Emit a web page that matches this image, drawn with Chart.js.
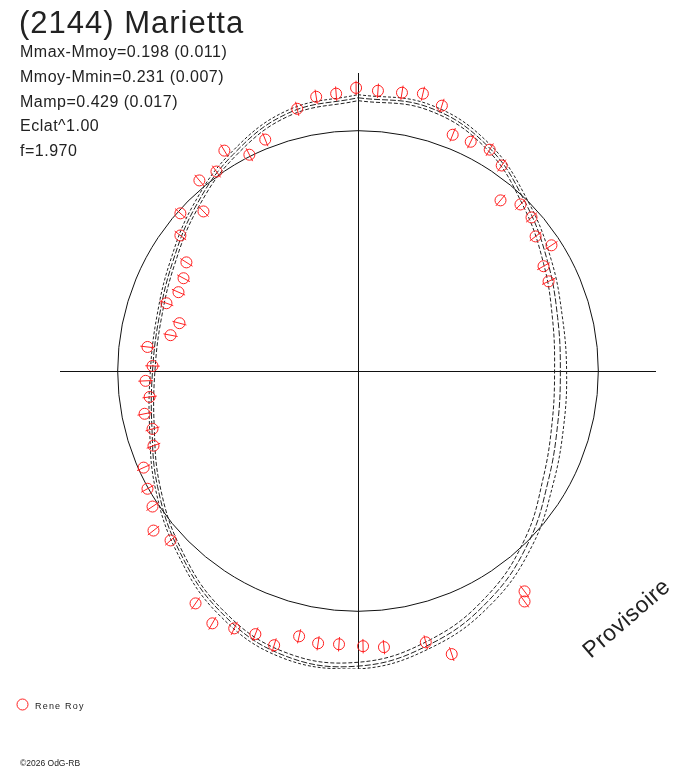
<!DOCTYPE html>
<html>
<head>
<meta charset="utf-8">
<script src="https://cdn.jsdelivr.net/npm/chart.js@4.4.0/dist/chart.umd.min.js"></script>
<style>
  html, body { margin: 0; padding: 0; background: #fff; }
  #wrap { position: relative; width: 688px; height: 768px; }
</style>
</head>
<body>
<div id="wrap"><canvas id="polarChart"></canvas></div>
<script>
// Polar light curve of (2144) Marietta
// radius unit = mean flux circle, angle = rotation phase (clockwise from top)

const titleText = '(2144) Marietta';
const infoLines = [
  'Mmax-Mmoy=0.198 (0.011)',
  'Mmoy-Mmin=0.231 (0.007)',
  'Mamp=0.429 (0.017)',
  'Eclat^1.00',
  'f=1.970'
];
const observer = 'Rene Roy';
const footer = '\u00a92026 OdG-RB';
const stamp = 'Provisoire';

// observations, in units of the mean circle
const obsX = [-0.008, 0.083, 0.183, 0.270, 0.349, 0.394, 0.469, 0.548, 0.598, 0.593,
  0.676, 0.722, 0.739, 0.805, 0.772, 0.793, 0.693, 0.693, 0.390, 0.282,
  0.108, 0.021, -0.079, -0.166, -0.245, -0.349, -0.427, -0.515, -0.606, -0.676,
  -0.780, -0.851, -0.855, -0.876, -0.892, -0.851, -0.855, -0.888, -0.867, -0.884,
  -0.855, -0.876, -0.780, -0.743, -0.797, -0.747, -0.726, -0.714, -0.739, -0.739,
  -0.643, -0.660, -0.589, -0.556, -0.452, -0.386, -0.253, -0.174, -0.091];
const obsY = [1.178, 1.166, 1.158, 1.154, 1.104, 0.983, 0.954, 0.921, 0.855, 0.710,
  0.693, 0.639, 0.560, 0.523, 0.436, 0.373, -0.917, -0.959, -1.178, -1.129,
  -1.149, -1.145, -1.137, -1.133, -1.104, -1.141, -1.095, -1.071, -1.050, -0.967,
  -0.705, -0.664, -0.564, -0.490, -0.402, -0.311, -0.241, -0.178, -0.108, -0.041,
  0.021, 0.100, 0.149, 0.199, 0.282, 0.328, 0.386, 0.452, 0.564, 0.656,
  0.664, 0.793, 0.830, 0.917, 0.900, 0.963, 1.091, 1.141, 1.154];
const obsErr = 0.03;

// fitted curves: radius at each phase angle (degrees)
const fitPhase = [0, 15, 30, 45, 60, 75, 90, 105, 120, 135, 150, 165,
  180, 195, 210, 225, 240, 255, 270, 285, 300, 315, 330, 345];
const fitInner = [1.125, 1.124, 1.068, 0.972, 0.892, 0.838, 0.818, 0.836, 0.890, 0.984, 1.078, 1.158,
  1.212, 1.208, 1.140, 1.043, 0.952, 0.878, 0.845, 0.847, 0.882, 0.948, 1.028, 1.100];
const fitMid = [1.137, 1.136, 1.080, 0.987, 0.911, 0.860, 0.842, 0.860, 0.914, 1.005, 1.097, 1.175,
  1.228, 1.222, 1.152, 1.054, 0.963, 0.888, 0.855, 0.857, 0.893, 0.960, 1.040, 1.112];
const fitOuter = [1.150, 1.148, 1.092, 1.000, 0.928, 0.880, 0.868, 0.886, 0.938, 1.026, 1.116, 1.190,
  1.240, 1.234, 1.166, 1.066, 0.974, 0.898, 0.864, 0.867, 0.904, 0.972, 1.052, 1.124];

const axisMax = 1.24;

function toXY(radii) {
  const pts = fitPhase.map((deg, i) => {
    const a = deg * Math.PI / 180;
    return { x: radii[i] * Math.sin(a), y: radii[i] * Math.cos(a) };
  });
  pts.push(pts[0]);
  return pts;
}

function fitSet(radii, dash) {
  return {
    data: toXY(radii),
    showLine: true,
    borderColor: '#222',
    borderWidth: 1,
    borderDash: dash,
    pointRadius: 0,
    tension: 0.4,
    fill: false,
    order: 2
  };
}

const axisOpts = {
  type: 'linear',
  min: -axisMax,
  max: axisMax,
  ticks: { display: false },
  border: { display: false },
  grid: { color: '#111', lineWidth: 1, drawTicks: false },
  afterBuildTicks: s => { s.ticks = [{ value: 0 }]; }
};

const decor = {
  id: 'decor',
  beforeDatasetsDraw(chart) {
    const { ctx, scales: { x, y } } = chart;
    const cx = x.getPixelForValue(0), cy = y.getPixelForValue(0);
    const r = x.getPixelForValue(1) - cx;
    ctx.save();
    ctx.strokeStyle = '#111';
    ctx.lineWidth = 1;
    ctx.beginPath();
    ctx.arc(cx, cy, r, 0, Math.PI * 2);
    ctx.stroke();
    ctx.restore();
  },
  afterDatasetsDraw(chart) {
    // radial error bars through each observation
    const { ctx, scales: { x, y } } = chart;
    const cx = x.getPixelForValue(0), cy = y.getPixelForValue(0);
    const h = x.getPixelForValue(obsErr) - cx;
    ctx.save();
    ctx.strokeStyle = '#ff2020';
    ctx.lineWidth = 1;
    chart.getDatasetMeta(0).data.forEach(el => {
      const a = Math.atan2(el.y - cy, el.x - cx);
      ctx.beginPath();
      ctx.moveTo(el.x - h * Math.cos(a), el.y - h * Math.sin(a));
      ctx.lineTo(el.x + h * Math.cos(a), el.y + h * Math.sin(a));
      ctx.stroke();
    });
    ctx.restore();
  },
  afterDraw(chart) {
    const ctx = chart.ctx;
    ctx.save();
    ctx.fillStyle = '#222';
    ctx.textBaseline = 'alphabetic';
    ctx.font = '31px "Liberation Sans", Arial, sans-serif';
    ctx.letterSpacing = '1px';
    ctx.fillText(titleText, 19, 33);
    ctx.font = '16px "Liberation Sans", Arial, sans-serif';
    ctx.letterSpacing = '0.5px';
    infoLines.forEach((t, i) => ctx.fillText(t, 20, 57 + i * 24.75));

    // legend
    ctx.strokeStyle = '#ff2020';
    ctx.beginPath();
    ctx.arc(22.5, 704.5, 5.5, 0, Math.PI * 2);
    ctx.stroke();
    ctx.font = '9px "Liberation Sans", Arial, sans-serif';
    ctx.letterSpacing = '1.2px';
    ctx.fillText(observer, 35, 709);
    ctx.font = '8.5px "Liberation Sans", Arial, sans-serif';
    ctx.letterSpacing = '0px';
    ctx.fillText(footer, 20, 766);

    // stamp
    ctx.translate(627, 619);
    ctx.rotate(-41 * Math.PI / 180);
    ctx.font = '23px "Liberation Sans", Arial, sans-serif';
    ctx.letterSpacing = '0.5px';
    ctx.textAlign = 'center';
    ctx.textBaseline = 'middle';
    ctx.fillText(stamp, 0, 0);
    ctx.restore();
  }
};

new Chart(document.getElementById('polarChart'), {
  type: 'scatter',
  data: {
    datasets: [
      {
        data: obsX.map((v, i) => ({ x: v, y: obsY[i] })),
        pointStyle: 'circle',
        pointRadius: 5.5,
        pointBorderColor: '#ff2020',
        pointBackgroundColor: 'rgba(0,0,0,0)',
        pointBorderWidth: 1,
        order: 0
      },
      fitSet(fitInner, [4, 2]),
      fitSet(fitMid, [6, 2]),
      fitSet(fitOuter, [3, 2])
    ]
  },
  options: {
    responsive: true,
    maintainAspectRatio: false,
    animation: false,
    layout: { padding: { left: 60, right: 32, top: 73, bottom: 99 } },
    scales: { x: axisOpts, y: axisOpts },
    plugins: {
      legend: { display: false },
      tooltip: { enabled: false }
    }
  },
  plugins: [decor]
});
</script>
</body>
</html>
